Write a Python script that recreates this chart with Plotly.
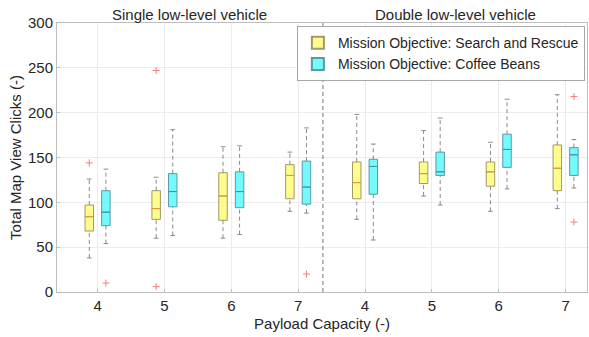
import plotly.graph_objects as go

# ---- data ----
positions = [1, 2, 3, 4, 5, 6, 7, 8]
tick_labels = ["4", "5", "6", "7", "4", "5", "6", "7"]
group_titles = ["Single low-level vehicle", "Double low-level vehicle"]
series_names = ["Mission Objective: Search and Rescue", "Mission Objective: Coffee Beans"]

sar_lower = [38, 60, 60, 90, 81, 107, 90, 93]
sar_q1 = [68, 81, 80, 104, 104, 121, 118, 113]
sar_median = [84, 93, 107, 130, 122, 132, 134, 138]
sar_q3 = [97, 113, 133, 142, 145, 145, 145, 164]
sar_upper = [126, 128, 162, 156, 198, 180, 167, 220]
sar_outliers = [[144], [247, 6], [], [], [], [], [], [248]]

cb_lower = [54, 63, 64, 88, 58, 97, 115, 116]
cb_q1 = [74, 95, 94, 98, 109, 130, 139, 130]
cb_median = [89, 112, 112, 117, 140, 134, 159, 153]
cb_q3 = [113, 132, 134, 146, 148, 156, 176, 161]
cb_upper = [137, 181, 163, 183, 165, 194, 215, 170]
cb_outliers = [[10], [], [], [20], [], [], [], [218, 78]]

# ---- style ----
OFFSET = 0.124
BOX_W = 0.127
CAP_W = 0.035
FONT = "Liberation Sans, Arial, sans-serif"
TXT = "#262626"

fig = go.Figure()

series = [
    dict(name=series_names[0], off=-OFFSET, lo=sar_lower, q1=sar_q1, med=sar_median, q3=sar_q3,
         up=sar_upper, out=sar_outliers, fill="rgba(255,250,120,0.85)", edge="#a09a62", medc="#e39a3a"),
    dict(name=series_names[1], off=OFFSET, lo=cb_lower, q1=cb_q1, med=cb_median, q3=cb_q3,
         up=cb_upper, out=cb_outliers, fill="rgba(100,250,250,0.9)", edge="#5b9aa8", medc="#4a8cb0"),
]

for s in series:
    xs = [p + s["off"] for p in positions]
    # dashed whiskers
    wx, wy = [], []
    cx, cy = [], []
    for x, lo, q1, q3, up in zip(xs, s["lo"], s["q1"], s["q3"], s["up"]):
        wx += [x, x, None, x, x, None]
        wy += [q3, up, None, lo, q1, None]
        cx += [x - CAP_W, x + CAP_W, None, x - CAP_W, x + CAP_W, None]
        cy += [up, up, None, lo, lo, None]
    fig.add_trace(go.Scatter(x=wx, y=wy, mode="lines", showlegend=False, hoverinfo="skip",
                             line=dict(color="#8a8a8a", width=1, dash="4px,3px")))
    fig.add_trace(go.Scatter(x=cx, y=cy, mode="lines", showlegend=False, hoverinfo="skip",
                             line=dict(color="#8a8a8a", width=1)))
    # boxes
    fig.add_trace(go.Box(
        x=xs, q1=s["q1"], median=s["med"], q3=s["q3"],
        lowerfence=s["q1"], upperfence=s["q3"],
        name=s["name"], width=BOX_W, whiskerwidth=0,
        fillcolor=s["fill"], line=dict(color=s["edge"], width=1),
        boxpoints=False,
    ))
    # median lines
    mx, my = [], []
    for x, m in zip(xs, s["med"]):
        mx += [x - BOX_W / 2 + 0.005, x + BOX_W / 2 - 0.005, None]
        my += [m, m, None]
    fig.add_trace(go.Scatter(x=mx, y=my, mode="lines", showlegend=False, hoverinfo="skip",
                             line=dict(color=s["medc"], width=1)))
    # outliers
    ox, oy = [], []
    for x, outs in zip(xs, s["out"]):
        for v in outs:
            ox.append(x)
            oy.append(v)
    fig.add_trace(go.Scatter(x=ox, y=oy, mode="markers", showlegend=False, hoverinfo="skip",
                             marker=dict(symbol="cross-thin", size=5,
                                         line=dict(color="#f28080", width=1))))

fig.update_layout(
    width=589, height=337,
    margin=dict(l=57, r=2, t=23, b=45, autoexpand=False),
    plot_bgcolor="white", paper_bgcolor="white",
    boxmode="overlay",
    font=dict(family=FONT, size=15, color=TXT),
    showlegend=True,
    legend=dict(x=0.996, y=0.988, xanchor="right", yanchor="top",
                bgcolor="white", bordercolor="#a8a8a8", borderwidth=1,
                font=dict(size=14, color=TXT), tracegroupgap=0,
                itemsizing="constant", itemwidth=30),
    xaxis=dict(range=[0.393, 8.32], tickmode="array", tickvals=positions, ticktext=tick_labels,
               showgrid=True, gridcolor="#ececec", zeroline=False,
               showline=True, linecolor="#bdbdbd", linewidth=1, mirror=True,
               ticks="inside", ticklen=3, tickcolor="#bdbdbd",
               title=dict(text="Payload Capacity (-)", standoff=5, font=dict(size=15, color=TXT)),
               tickfont=dict(size=15, color=TXT)),
    yaxis=dict(range=[0, 300], tickvals=[0, 50, 100, 150, 200, 250, 300],
               showgrid=True, gridcolor="#ececec", zeroline=False,
               showline=True, linecolor="#bdbdbd", linewidth=1, mirror=True,
               ticks="inside", ticklen=3, tickcolor="#bdbdbd",
               title=dict(text="Total Map View Clicks (-)", standoff=2, font=dict(size=15, color=TXT)),
               tickfont=dict(size=15, color=TXT)),
)

# divider between the two vehicle configurations
fig.add_shape(type="line", x0=4.37, x1=4.37, y0=0, y1=1, xref="x", yref="paper",
              line=dict(color="#777777", width=1, dash="4px,3px"))

for xc, t in zip([2.37, 6.36], group_titles):
    fig.add_annotation(x=xc, y=1, xref="x", yref="paper", yanchor="bottom", text=t,
                       showarrow=False, font=dict(size=15, color=TXT), yshift=-2)

fig.write_html("out.html", config={"displayModeBar": False},
               post_script="document.body.style.margin='0';")
